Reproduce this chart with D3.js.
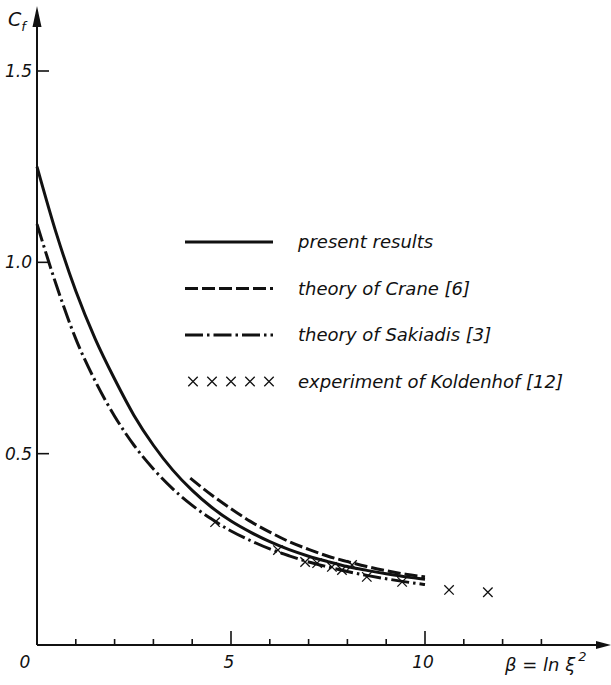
<!DOCTYPE html>
<html>
<head>
<meta charset="utf-8">
<script src="https://cdn.jsdelivr.net/npm/d3@7"></script>
<style>
  html, body { margin: 0; padding: 0; background: #fff; }
  svg { display: block; }
  text { font-family: "DejaVu Sans", sans-serif; font-style: oblique; fill: #111; }
</style>
</head>
<body>
<svg id="chart" width="611" height="685"></svg>
<script>
// ---------------- data ----------------
const betaGrid    = [0, 0.5, 1, 1.5, 2, 2.5, 3, 3.5, 4, 4.5, 5, 5.5, 6, 6.5, 7, 7.5, 8, 8.5, 9, 9.5, 10];
const presentCf   = [1.25, 1.075, 0.925, 0.80, 0.695, 0.60, 0.522, 0.457, 0.404, 0.36, 0.324, 0.295, 0.27, 0.249, 0.232, 0.218, 0.205, 0.195, 0.186, 0.178, 0.172];
const sakiadisCf  = [1.10, 0.94, 0.80, 0.69, 0.598, 0.522, 0.46, 0.408, 0.365, 0.329, 0.298, 0.273, 0.251, 0.233, 0.217, 0.204, 0.192, 0.182, 0.173, 0.165, 0.158];
const craneBeta   = [3.95, 4.5, 5, 5.5, 6, 6.5, 7, 7.5, 8, 8.5, 9, 9.5, 10];
const craneCf     = [0.436, 0.392, 0.356, 0.323, 0.295, 0.270, 0.250, 0.232, 0.218, 0.205, 0.194, 0.185, 0.178];
const expBeta     = [4.59, 6.21, 6.91, 7.22, 7.6, 7.86, 8.12, 8.5, 9.41, 10.62, 11.62];
const expCf       = [0.321, 0.248, 0.217, 0.214, 0.204, 0.196, 0.209, 0.178, 0.165, 0.144, 0.138];
const xTicks      = [1, 2, 3, 4, 5, 6, 7, 8, 9, 10, 11, 12, 13];
const xMajor      = [5, 10];
const xTickLabels = ["0", "5", "10"];
const xLabelVals  = [0, 5, 10];
const yTicks      = [0.5, 1.0, 1.5];
const yTickLabels = ["0.5", "1.0", "1.5"];
const legendLabels = ["present results", "theory of Crane [6]", "theory of Sakiadis [3]", "experiment of Koldenhof [12]"];
const legendStyles = ["solid", "dash", "dashdot", "cross"];

// ---------------- scales ----------------
const svg = d3.select("#chart");
const x = d3.scaleLinear().domain([0, 10]).range([37, 425]);
const y = d3.scaleLinear().domain([0, 1.5]).range([645, 71]);
const ink = "#111";

// ---------------- axes ----------------
const g = svg.append("g");
g.append("line").attr("x1", x(0)).attr("x2", x(0)).attr("y1", y(0)).attr("y2", 24)
  .attr("stroke", ink).attr("stroke-width", 2);
g.append("path").attr("d", `M${x(0)},6 L${x(0) - 4.5},27 L${x(0) + 4.5},27 Z`).attr("fill", ink);
g.append("line").attr("x1", x(0)).attr("x2", 600).attr("y1", y(0)).attr("y2", y(0))
  .attr("stroke", ink).attr("stroke-width", 2);
g.append("path").attr("d", `M611,${y(0)} L596,${y(0) - 4} L596,${y(0) + 4} Z`).attr("fill", ink);

g.selectAll(".xt").data(xTicks).join("line")
  .attr("x1", d => x(d)).attr("x2", d => x(d))
  .attr("y1", y(0)).attr("y2", d => y(0) - (xMajor.includes(d) ? 14 : 6))
  .attr("stroke", ink).attr("stroke-width", 1.6);
g.selectAll(".xl").data(xLabelVals).join("text")
  .attr("x", (d, i) => x(d) + (i === 0 ? -12 : -2))
  .attr("y", 668)
  .attr("text-anchor", "middle")
  .attr("font-size", 17)
  .text((d, i) => xTickLabels[i]);

g.selectAll(".yt").data(yTicks).join("line")
  .attr("x1", x(0)).attr("x2", x(0) + 12)
  .attr("y1", d => y(d)).attr("y2", d => y(d))
  .attr("stroke", ink).attr("stroke-width", 1.6);
g.selectAll(".yl").data(yTicks).join("text")
  .attr("x", 32).attr("y", d => y(d) + 6)
  .attr("text-anchor", "end")
  .attr("font-size", 17)
  .text((d, i) => yTickLabels[i]);

const ct = g.append("text").attr("x", 8).attr("y", 26).attr("font-size", 19);
ct.append("tspan").text("C");
ct.append("tspan").attr("font-size", 13).attr("dy", 5).text("f");

const bt = g.append("text").attr("x", 505).attr("y", 671).attr("font-size", 18);
bt.append("tspan").text("β = ln ξ");
bt.append("tspan").attr("font-size", 13).attr("dy", -10).attr("dx", 3).text("2");

// ---------------- curves ----------------
const line = d3.line().x(d => x(d[0])).y(d => y(d[1])).curve(d3.curveMonotoneX);

const styles = {
  solid:   { dash: null },
  dash:    { dash: "13,4" },
  dashdot: { dash: "18,4,2.5,4" }
};

svg.append("path")
  .datum(betaGrid.map((b, i) => [b, presentCf[i]]))
  .attr("d", line).attr("fill", "none").attr("stroke", ink).attr("stroke-width", 3);

svg.append("path")
  .datum(betaGrid.map((b, i) => [b, sakiadisCf[i]]))
  .attr("d", line).attr("fill", "none").attr("stroke", ink).attr("stroke-width", 3)
  .attr("stroke-dasharray", styles.dashdot.dash);

svg.append("path")
  .datum(craneBeta.map((b, i) => [b, craneCf[i]]))
  .attr("d", line).attr("fill", "none").attr("stroke", ink).attr("stroke-width", 3)
  .attr("stroke-dasharray", styles.dash.dash);

const cross = d3.symbol().type(d3.symbolX).size(60);
svg.selectAll(".exp").data(expBeta.map((b, i) => [b, expCf[i]])).join("path")
  .attr("d", cross)
  .attr("transform", d => `translate(${x(d[0])},${y(d[1])})`)
  .attr("fill", "none").attr("stroke", ink).attr("stroke-width", 1.3);

// ---------------- legend ----------------
const lg = svg.append("g");
const legX0 = 185, legX1 = 273, legTextX = 298, legY0 = 242, legDY = 46.5;
legendLabels.forEach((lab, i) => {
  const yy = legY0 + i * legDY;
  const st = legendStyles[i];
  if (st === "cross") {
    [193, 212, 231, 250, 269].forEach(cx => {
      lg.append("path").attr("d", cross)
        .attr("transform", `translate(${cx},${yy})`)
        .attr("fill", "none").attr("stroke", ink).attr("stroke-width", 1.3);
    });
  } else {
    lg.append("line").attr("x1", legX0).attr("x2", legX1).attr("y1", yy).attr("y2", yy)
      .attr("stroke", ink).attr("stroke-width", 3)
      .attr("stroke-dasharray", styles[st].dash);
  }
  lg.append("text").attr("x", legTextX).attr("y", yy + 6)
    .attr("font-size", 18).text(lab);
});
</script>
</body>
</html>
